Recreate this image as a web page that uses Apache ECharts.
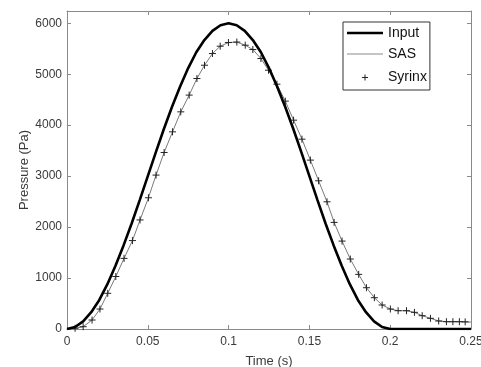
<!DOCTYPE html>
<html>
<head>
<meta charset="utf-8">
<script src="https://cdn.jsdelivr.net/npm/echarts@6/dist/echarts.min.js"></script>
<style>
html,body{margin:0;padding:0;background:#fff;}
#chart{width:481px;height:367px;}
</style>
</head>
<body>
<div id="chart"></div>
<script>
var xTicks = [0, 0.05, 0.1, 0.15, 0.2, 0.25];
var yTicks = [0, 1000, 2000, 3000, 4000, 5000, 6000];

var inputTime = [0,0.005,0.01,0.015,0.02,0.025,0.03,0.035,0.04,0.045,0.05,0.055,0.06,0.065,0.07,0.075,0.08,0.085,0.09,0.095,0.1,
  0.105,0.11,0.115,0.12,0.125,0.13,0.135,0.14,0.145,0.15,0.155,0.16,0.165,0.17,0.175,0.18,0.185,0.19,0.195,0.2,0.25];
var inputValues = [0,40,150,330,570,880,1240,1640,2070,2530,3000,3470,3930,4360,4760,5120,5430,5670,5850,5960,6000,
  5960,5850,5670,5430,5120,4760,4360,3930,3470,3000,2530,2070,1640,1240,880,570,330,150,40,0,0];

var syrinxTime = [0.005,0.010,0.0155,0.0204,0.0252,0.0302,0.0353,0.0405,0.0452,0.0504,0.0551,0.0601,0.0653,0.0704,0.0756,0.0804,
  0.0851,0.0900,0.0948,0.0999,0.1051,0.1103,0.1150,0.1200,0.1247,0.1299,0.1351,0.1402,0.1454,0.1506,0.1557,0.1609,0.1653,
  0.1702,0.1753,0.1805,0.1853,0.1902,0.1950,0.2001,0.2049,0.2101,0.2150,0.2198,0.2249,0.2300,0.2348,0.2388,0.2428,0.2464];
var syrinxValues = [15,45,176,392,700,1030,1386,1735,2140,2575,3020,3464,3869,4261,4590,4915,
  5176,5405,5549,5621,5630,5569,5484,5307,5078,4804,4471,4098,3725,3314,2908,2496,2092,
  1725,1373,1072,810,614,471,392,359,359,327,261,210,157,143,143,143,140];

var sasTime = [0,0.005,0.010,0.0155,0.0204,0.0252,0.0302,0.0353,0.0405,0.0452,0.0504,0.0551,0.0601,0.0653,0.0704,0.0756,0.0804,
  0.0851,0.0900,0.0948,0.0999,0.1051,0.1103,0.1150,0.1200,0.1247,0.1299,0.1351,0.1402,0.1454,0.1506,0.1557,0.1609,0.1653,
  0.1702,0.1753,0.1805,0.1853,0.1902,0.1950,0.2001,0.2049,0.2101,0.2150,0.2198,0.2249,0.2300,0.2348,0.2388,0.2428,0.2464,0.25];
var sasValues = [0,15,45,176,392,700,1030,1386,1735,2140,2575,3020,3464,3869,4261,4590,4915,
  5176,5405,5549,5621,5630,5569,5484,5307,5078,4804,4471,4098,3725,3314,2908,2496,2092,
  1725,1373,1072,810,614,471,392,359,359,327,261,210,157,143,143,143,140,135];

function zip(a, b) { return a.map(function (v, i) { return [v, b[i]]; }); }

var axisColor = '#8a8a8a';
var labelColor = '#3a3a3a';
var font = 'Liberation Sans, Arial, sans-serif';
var plusPath = 'path://M0,5 L10,5 M5,0 L5,10';
var plusLegend = 'path://M0,0 M14,14 M4,7 L10,7 M7,4 L7,10';
var thickLegend = 'path://M0,0 M36,14 M0,5.7 L36,5.7 L36,8.3 L0,8.3 Z';
var thinLegend = 'path://M0,0 M36,14 M0,6.5 L36,6.5 L36,7.5 L0,7.5 Z';

var chart = echarts.init(document.getElementById('chart'), null, {renderer: 'canvas'});
chart.setOption({
  animation: false,
  backgroundColor: '#fff',
  textStyle: {fontFamily: font},
  grid: {left: 67, right: 10, top: 11, bottom: 38, containLabel: false, outerBoundsMode: 'none'},
  legend: {
    orient: 'vertical', left: 343, top: 22,
    padding: [4, 3, 3, 4],
    itemWidth: 36, itemHeight: 14, itemGap: 7,
    borderColor: '#333', borderWidth: 1, backgroundColor: '#fff',
    textStyle: {fontSize: 14, color: '#111', fontFamily: font},
    data: [
      {name: 'Input', icon: thickLegend, itemStyle: {color: '#000', borderWidth: 0}},
      {name: 'SAS', icon: thinLegend, itemStyle: {color: '#8a8a8a', borderWidth: 0}},
      {name: 'Syrinx', icon: plusLegend, itemStyle: {color: 'none', borderColor: '#222', borderWidth: 1}}
    ]
  },
  xAxis: [{
    type: 'value', min: 0, max: 0.25, interval: 0.05,
    name: 'Time (s)', nameLocation: 'middle', nameGap: 26, nameMoveOverlap: false,
    nameTextStyle: {fontSize: 13, color: labelColor, fontFamily: font},
    axisLine: {show: true, onZero: false, lineStyle: {color: axisColor, width: 1}},
    axisTick: {show: true, inside: true, length: 4, lineStyle: {color: axisColor}},
    axisLabel: {fontSize: 12, color: labelColor, margin: 7, fontFamily: font,
      formatter: function (v) { return String(+v.toFixed(3)); }},
    splitLine: {show: false}
  }, {
    type: 'value', min: 0, max: 0.25, interval: 0.05, position: 'top',
    axisLine: {show: true, onZero: false, lineStyle: {color: axisColor, width: 1}},
    axisTick: {show: true, inside: true, length: 4, lineStyle: {color: axisColor}},
    axisLabel: {show: false}, splitLine: {show: false}
  }],
  yAxis: [{
    type: 'value', min: 0, max: 6240, interval: 1000,
    name: 'Pressure (Pa)', nameLocation: 'middle', nameGap: 36, nameRotate: 90, nameMoveOverlap: false,
    nameTextStyle: {fontSize: 13, color: labelColor, fontFamily: font},
    axisLine: {show: true, onZero: false, lineStyle: {color: axisColor, width: 1}},
    axisTick: {show: true, inside: true, length: 4, lineStyle: {color: axisColor},
      customValues: yTicks},
    axisLabel: {fontSize: 12, color: labelColor, margin: 5, fontFamily: font,
      customValues: yTicks, formatter: function (v) { return String(Math.round(v)); }},
    splitLine: {show: false}
  }, {
    type: 'value', min: 0, max: 6240, interval: 1000, position: 'right',
    axisLine: {show: true, onZero: false, lineStyle: {color: axisColor, width: 1}},
    axisTick: {show: true, inside: true, length: 4, lineStyle: {color: axisColor}, customValues: yTicks},
    axisLabel: {show: false}, splitLine: {show: false}
  }],
  series: [
    {
      name: 'SAS', type: 'line', data: zip(sasTime, sasValues),
      symbol: 'none', smooth: false,
      lineStyle: {color: '#7a7a7a', width: 1},
      itemStyle: {color: '#7a7a7a'}, z: 2
    },
    {
      name: 'Syrinx', type: 'scatter', data: zip(syrinxTime, syrinxValues),
      symbol: plusPath, symbolSize: 7,
      itemStyle: {color: 'none', borderColor: '#222', borderWidth: 1, opacity: 1}, z: 3
    },
    {
      name: 'Input', type: 'line', data: zip(inputTime, inputValues),
      symbol: 'none', smooth: false,
      lineStyle: {color: '#000', width: 2.6},
      itemStyle: {color: '#000'}, z: 4
    }
  ]
});
</script>
</body>
</html>
